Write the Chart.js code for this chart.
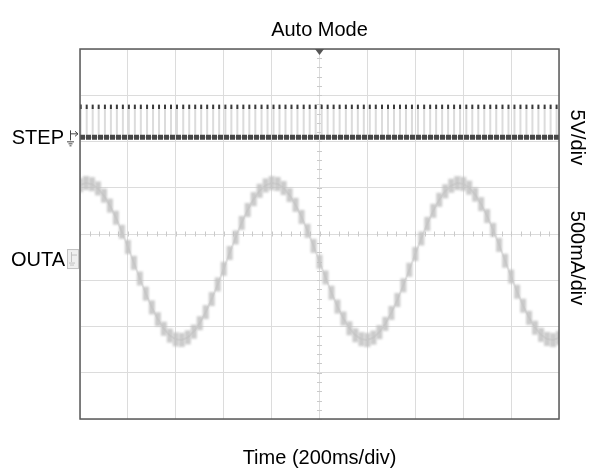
<!DOCTYPE html>
<html>
<head>
<meta charset="utf-8">
<script src="https://cdn.jsdelivr.net/npm/chart.js@4/dist/chart.umd.min.js"></script>
<style>
html,body{margin:0;padding:0;background:#fff;}
#c{display:block;}
</style>
</head>
<body>
<canvas id="c" width="592" height="471"></canvas>
<script>
// ---- data (time in ms, 200 ms/div) ----
const chartTitle = 'Auto Mode';
const xTitle = 'Time (200ms/div)';
const channelNames = ['STEP', 'OUTA'];
const scaleLabels = ['5V/div', '500mA/div'];

// STEP channel: pulse instants (ms) and levels (V)
const stepPulseTimesMs = [3,28,53,78,104,129,154,179,204,229,254,280,305,330,355,380,405,431,456,481,
  506,531,556,581,607,632,657,682,707,732,758,783,808,833,858,883,908,934,959,984,
  1009,1034,1059,1084,1110,1135,1160,1185,1210,1235,1261,1286,1311,1336,1361,1386,1411,1437,1462,1487,
  1512,1537,1562,1587,1613,1638,1663,1688,1713,1738,1764,1789,1814,1839,1864,1889,1914,1940,1965,1990];
const stepLowV = 0;
const stepHighV = 3.3;

// OUTA channel: sampled current (mA)
const outaTimesMs = [0,25,50,75,100,125,150,175,200,225,250,275,300,325,350,375,400,425,450,475,
  500,525,550,575,600,625,650,675,700,725,750,775,800,825,850,875,900,925,950,975,
  1000,1025,1050,1075,1100,1125,1150,1175,1200,1225,1250,1275,1300,1325,1350,1375,1400,1425,1450,1475,
  1500,1525,1550,1575,1600,1625,1650,1675,1700,1725,1750,1775,1800,1825,1850,1875,1900,1925,1950,1975,2000];
const outaCurrentMa = [788,811,799,753,675,567,436,284,120,-51,
  -221,-384,-533,-661,-764,-838,-879,-885,-857,-796,
  -704,-584,-443,-285,-116,55,223,380,520,637,
  727,785,810,801,757,681,575,445,295,131,
  -40,-210,-374,-524,-654,-759,-834,-877,-886,-860,
  -801,-711,-593,-453,-295,-127,44,212,370,511,
  630,722,782,810,802,761,686,583,454,305,
  142,-29,-200,-364,-515,-646,-753,-830,-875,-886,-863];

// ---- scope settings ----
const timeSpanMs = 2000, msPerDiv = 200;
const divsY = 8;
const voltsPerDiv = 5, stepZeroDiv = 2.09;
const maPerDiv = 500, outaZeroDiv = -0.52;

const FONT = 'Arial, "Liberation Sans", Helvetica, sans-serif';

// blurred block used as the OUTA sample marker
const blob = document.createElement('canvas');
blob.width = 14; blob.height = 22;
(function(){
  const g = blob.getContext('2d');
  g.filter = 'blur(1.3px)';
  g.fillStyle = 'rgba(192,192,192,0.82)';
  g.fillRect(4, 4, 6, 14);
})();

const pulseLine = [];
stepPulseTimesMs.forEach(t => {
  pulseLine.push({x: t, y: stepLowV}, {x: t, y: stepHighV}, {x: t, y: stepLowV});
});
const pulseTops = stepPulseTimesMs.map(t => ({x: t, y: stepHighV}));
const outaPts = outaTimesMs.map((t, i) => ({x: t, y: outaCurrentMa[i]}));

const scopeDecor = {
  id: 'scopeDecor',
  beforeDatasetsDraw(chart) {
    const {ctx, chartArea: a, scales} = chart;
    const xs = scales.x, yd = scales.y;
    const cx = xs.getPixelForValue(timeSpanMs / 2);
    const cy = yd.getPixelForValue(0);
    ctx.save();
    ctx.strokeStyle = '#cacaca';
    ctx.lineWidth = 1;
    ctx.beginPath();
    for (let v = -divsY / 2; v <= divsY / 2 + 1e-6; v += 0.2) {
      const py = Math.round(yd.getPixelForValue(v)) + 0.5;
      ctx.moveTo(cx - 2.5, py); ctx.lineTo(cx + 2.5, py);
    }
    for (let t = 0; t <= timeSpanMs + 1e-6; t += msPerDiv / 5) {
      const px = Math.round(xs.getPixelForValue(t)) + 0.5;
      ctx.moveTo(px, cy - 2.5); ctx.lineTo(px, cy + 2.5);
    }
    ctx.stroke();
    ctx.restore();
  },
  afterDraw(chart) {
    const {ctx, chartArea: a, scales} = chart;
    ctx.save();
    // frame
    ctx.strokeStyle = '#5a5a5a';
    ctx.lineWidth = 1.5;
    ctx.strokeRect(a.left, a.top, a.right - a.left, a.bottom - a.top);
    // trigger marker
    const cx = scales.x.getPixelForValue(timeSpanMs / 2);
    ctx.fillStyle = '#555';
    ctx.beginPath();
    ctx.moveTo(cx - 4.5, a.top); ctx.lineTo(cx + 4.5, a.top); ctx.lineTo(cx, a.top + 6);
    ctx.closePath(); ctx.fill();

    // channel names
    const ys = scales.ys, yo = scales.yo;
    const yStep = ys.getPixelForValue(stepLowV);
    const yOut = yo.getPixelForValue(0);
    ctx.fillStyle = '#000';
    ctx.font = '20px ' + FONT;
    ctx.textAlign = 'right';
    ctx.textBaseline = 'middle';
    ctx.fillText(channelNames[0], a.left - 16, yStep + 1);
    ctx.fillText(channelNames[1], a.left - 15, yOut + 2);

    // STEP icon: arrow + ground
    ctx.strokeStyle = '#444'; ctx.lineWidth = 1;
    ctx.beginPath();
    ctx.moveTo(a.left - 9.5, yStep + 3); ctx.lineTo(a.left - 9.5, yStep - 7);
    ctx.moveTo(a.left - 9.5, yStep - 3.5); ctx.lineTo(a.left - 2, yStep - 3.5);
    ctx.moveTo(a.left - 5, yStep - 6); ctx.lineTo(a.left - 2, yStep - 3.5); ctx.lineTo(a.left - 5, yStep - 1);
    ctx.moveTo(a.left - 13, yStep + 4.5); ctx.lineTo(a.left - 6, yStep + 4.5);
    ctx.moveTo(a.left - 11.5, yStep + 6.5); ctx.lineTo(a.left - 7.5, yStep + 6.5);
    ctx.moveTo(a.left - 10.5, yStep + 8.5); ctx.lineTo(a.left - 8.5, yStep + 8.5);
    ctx.stroke();

    // OUTA icon (faded box)
    ctx.fillStyle = '#efefef';
    ctx.strokeStyle = '#c2c2c2';
    ctx.fillRect(a.left - 13, yOut - 9, 12, 20);
    ctx.strokeRect(a.left - 12.5, yOut - 8.5, 11, 19);
    ctx.beginPath();
    ctx.moveTo(a.left - 8.5, yOut + 4); ctx.lineTo(a.left - 8.5, yOut - 6);
    ctx.moveTo(a.left - 8.5, yOut - 3); ctx.lineTo(a.left - 3, yOut - 3);
    ctx.moveTo(a.left - 11, yOut + 5); ctx.lineTo(a.left - 5, yOut + 5);
    ctx.moveTo(a.left - 10, yOut + 7); ctx.lineTo(a.left - 6, yOut + 7);
    ctx.stroke();

    // scale labels (rotated)
    ctx.fillStyle = '#000';
    ctx.textAlign = 'center';
    const lx = a.right + 18;
    [[scaleLabels[0], yStep], [scaleLabels[1], yOut]].forEach(([txt, py]) => {
      ctx.save();
      ctx.translate(lx, py);
      ctx.rotate(Math.PI / 2);
      ctx.fillText(txt, 0, 0);
      ctx.restore();
    });
    ctx.restore();
  }
};

new Chart(document.getElementById('c'), {
  type: 'line',
  data: {
    datasets: [
      {label: 'STEP tops', data: pulseTops, yAxisID: 'ys', showLine: false,
       pointStyle: 'line', rotation: 90, pointRadius: 2.2, borderWidth: 2,
       pointBorderColor: '#3a3a3a', borderColor: '#3a3a3a', order: 1},
      {label: 'STEP base', data: [{x: 0, y: stepLowV}, {x: timeSpanMs, y: stepLowV}], yAxisID: 'ys',
       borderColor: '#474747', borderWidth: 5, borderDash: [5, 1], pointRadius: 0, order: 2},
      {label: 'STEP', data: pulseLine, yAxisID: 'ys', borderColor: '#dcdcdc', borderWidth: 2,
       pointRadius: 0, order: 3},
      {label: 'OUTA', data: outaPts, yAxisID: 'yo', borderColor: 'rgba(225,225,225,0.9)', borderWidth: 2,
       pointStyle: blob, pointRadius: 5, order: 4}
    ]
  },
  options: {
    responsive: false,
    animation: false,
    events: [],
    layout: {padding: {left: 80, right: 33, top: 0, bottom: 0}},
    plugins: {
      legend: {display: false},
      tooltip: {enabled: false},
      title: {display: true, text: chartTitle, color: '#000',
              font: {family: FONT, size: 20, weight: 'normal'}, padding: {top: 18, bottom: 7}}
    },
    scales: {
      x: {type: 'linear', min: 0, max: timeSpanMs,
          ticks: {display: false, stepSize: msPerDiv},
          grid: {color: '#dcdcdc', lineWidth: 1, drawTicks: false},
          border: {display: false},
          title: {display: true, text: xTitle, color: '#000',
                  font: {family: FONT, size: 20}, padding: {top: 27, bottom: 1}}},
      y: {type: 'linear', min: -divsY / 2, max: divsY / 2,
          ticks: {display: false, stepSize: 1},
          grid: {color: '#dcdcdc', lineWidth: 1, drawTicks: false},
          border: {display: false}},
      ys: {type: 'linear', display: false,
           min: -(divsY / 2 + stepZeroDiv) * voltsPerDiv, max: (divsY / 2 - stepZeroDiv) * voltsPerDiv},
      yo: {type: 'linear', display: false,
           min: -(divsY / 2 + outaZeroDiv) * maPerDiv, max: (divsY / 2 - outaZeroDiv) * maPerDiv}
    }
  },
  plugins: [scopeDecor]
});
</script>
</body>
</html>
